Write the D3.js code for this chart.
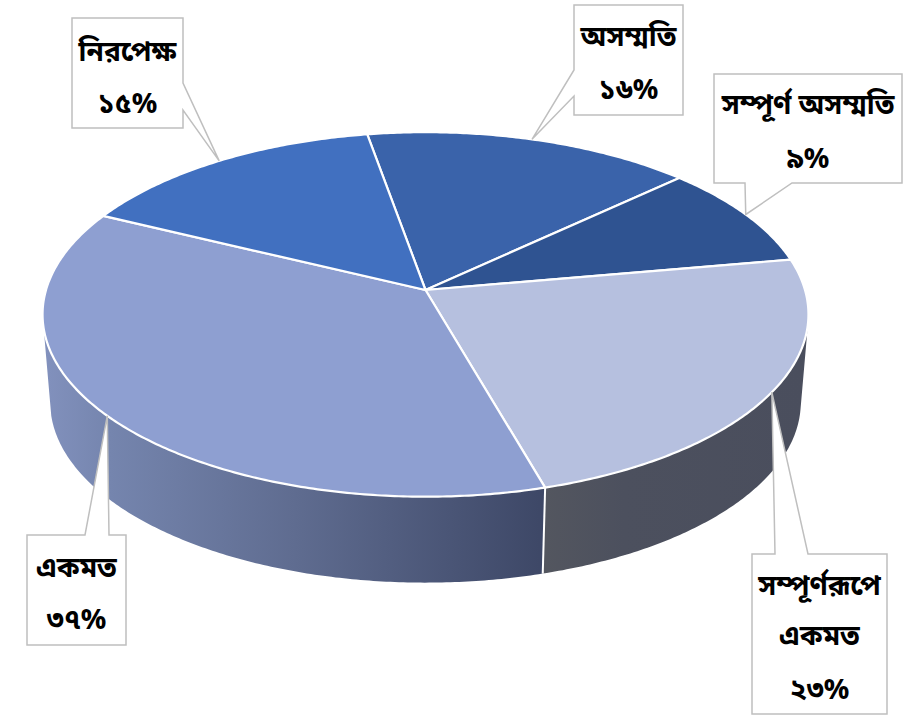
<!DOCTYPE html>
<html>
<head>
<meta charset="utf-8">
<script src="https://cdn.jsdelivr.net/npm/d3@7"></script>
<style>
  html, body { margin: 0; background: #fff; }
  text { font-family: "Noto Sans Bengali", "Noto Serif Bengali", "Lohit Bengali", "Noto Sans", "DejaVu Sans", sans-serif; font-weight: bold; font-size: 28px; fill: #000; text-anchor: middle; }
</style>
</head>
<body>
<svg id="chart" width="914" height="715"></svg>
<script>
// slices in clockwise order, starting at the top
const categories = ['অসম্মতি', 'সম্পূর্ণ অসম্মতি', 'সম্পূর্ণরূপে একমত', 'একমত', 'নিরপেক্ষ'];
// slice sizes as measured on the picture, the printed labels are rounded
const values = [15.8, 9.2, 23.35, 36.65, 15];
const valueLabels = ['১৬%', '৯%', '২৩%', '৩৭%', '১৫%'];
const colors = ['#3a63aa', '#2f5391', '#b6c0df', '#8e9fd1', '#4170c0'];

// callout boxes: [x0, y0, x1, y1], side the pointer leaves from, pointer base a..b, text rows below y0
const callouts = [
  { box: [574, 5, 683, 115], side: 'left', base: [70, 96], rows: [31, 84] },
  { box: [714, 74, 902, 183], side: 'bottom', base: [745, 792], rows: [30, 84] },
  { box: [752, 554, 887, 714], side: 'top', base: [775, 808], rows: [31, 81, 135] },
  { box: [27, 535, 126, 645], side: 'top', base: [85, 109], rows: [32, 84] },
  { box: [72, 18, 183, 128], side: 'right', base: [83, 110], rows: [33, 85] }
];

const svg = d3.select('#chart');

// the disc is a flat circle seen in perspective, so the apex sits above the ellipse centre
const apexX = 425.5, apexY = 290, scaleX = 379.5, scaleY = 179, persp = 0.134;
const depthY = 88, lowerX = 0.98, lowerY = 0.99;

function project(angle, lower) {
  const u = Math.sin(angle), v = -Math.cos(angle), w = 1 - persp * v;
  return [
    apexX + (lower ? lowerX : 1) * scaleX * u / w,
    apexY + (lower ? depthY : 0) + (lower ? lowerY : 1) * scaleY * v / w
  ];
}

function rim(a0, a1, lower) {
  const n = Math.max(2, Math.ceil(Math.abs(a1 - a0) / 0.01));
  return d3.range(n + 1).map(i => project(a0 + (a1 - a0) * i / n, lower));
}

const rad = d => d * Math.PI / 180;
const pie = d3.pie().sort(null).startAngle(rad(-10)).endAngle(rad(350));
const slices = pie(values);
const line = d3.line();

// wall gradients
const defs = svg.append('defs');
function gradient(id, x1, x2, stops) {
  const g = defs.append('linearGradient').attr('id', id)
    .attr('gradientUnits', 'userSpaceOnUse')
    .attr('x1', x1).attr('x2', x2).attr('y1', 0).attr('y2', 0);
  stops.forEach(s => g.append('stop').attr('offset', s[0]).attr('stop-color', s[1]));
}
gradient('wallLeft', 44, 546, [[0, '#8291bd'], [0.13, '#7585ae'], [0.5, '#5f6c90'], [1, '#3d4766']]);
gradient('wallRight', 546, 806, [[0, '#53565f'], [0.3, '#4c505e'], [1, '#4a4e5d']]);

// front walls, only the two front slices can be seen
const seam = slices[2].endAngle;
const walls = [
  { from: rad(100), to: seam, fill: 'url(#wallRight)' },
  { from: seam, to: rad(258), fill: 'url(#wallLeft)' }
];
svg.selectAll('path.wall').data(walls).enter().append('path')
  .attr('class', 'wall')
  .attr('fill', d => d.fill)
  .attr('d', d => line(rim(d.from, d.to, false).concat(rim(d.to, d.from, true))) + 'Z');

svg.append('path')
  .attr('d', line([project(seam, false), project(seam, true)]))
  .attr('stroke', '#fff').attr('stroke-width', 2).attr('fill', 'none');

// top face
svg.selectAll('path.slice').data(slices).enter().append('path')
  .attr('class', 'slice')
  .attr('fill', (d, i) => colors[i])
  .attr('stroke', '#fff').attr('stroke-width', 2.2).attr('stroke-linejoin', 'round')
  .attr('d', d => line([[apexX, apexY]].concat(rim(d.startAngle, d.endAngle, false))) + 'Z');

// callouts, the pointer tip lands on the rim at the middle of its slice
slices.forEach((d, i) => {
  const c = callouts[i];
  const [x0, y0, x1, y1] = c.box;
  const tip = project((d.startAngle + d.endAngle) / 2, false);
  const [a, b] = c.base;
  let pts;
  if (c.side === 'left') pts = [[x0, y0], [x1, y0], [x1, y1], [x0, y1], [x0, b], tip, [x0, a]];
  if (c.side === 'right') pts = [[x0, y0], [x1, y0], [x1, a], tip, [x1, b], [x1, y1], [x0, y1]];
  if (c.side === 'top') pts = [[x0, y0], [a, y0], tip, [b, y0], [x1, y0], [x1, y1], [x0, y1]];
  if (c.side === 'bottom') pts = [[x0, y0], [x1, y0], [x1, y1], [b, y1], tip, [a, y1], [x0, y1]];
  svg.append('path')
    .attr('d', line(pts) + 'Z')
    .attr('fill', '#fff').attr('stroke', '#bfbfbf').attr('stroke-width', 1.5);

  // the long label wraps onto two lines in its narrow box
  const rows = c.rows.length === 3 ? categories[i].split(' ').concat(valueLabels[i]) : [categories[i], valueLabels[i]];
  rows.forEach((t, r) => {
    svg.append('text')
      .attr('x', (x0 + x1) / 2)
      .attr('y', y0 + c.rows[r])
      .attr('dy', '0.35em')
      .text(t);
  });
});
</script>
</body>
</html>
